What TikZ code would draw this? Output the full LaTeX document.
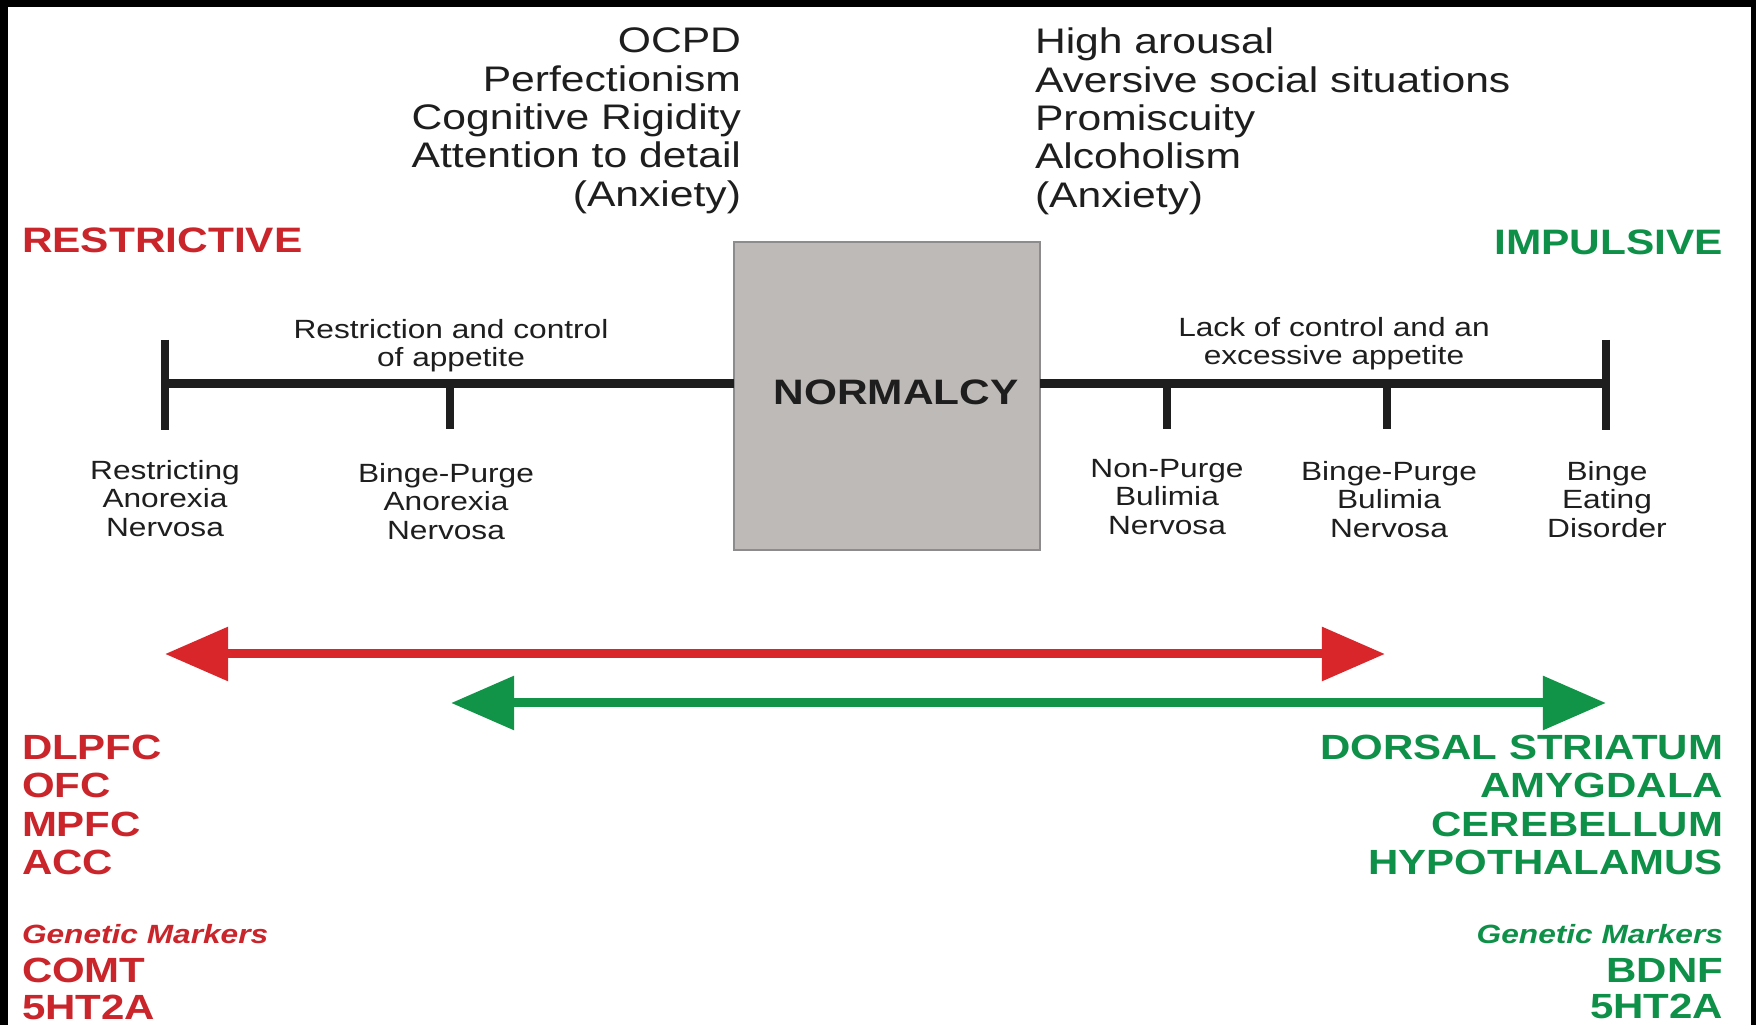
\documentclass[tikz,border=0pt]{standalone}
\usepackage{fontspec}
\setmainfont[FakeStretch=1.2]{Liberation Sans}
\usetikzlibrary{arrows.meta,positioning}
\definecolor{Ink}{HTML}{1E1E1E}
\definecolor{RedText}{HTML}{C9252B}
\definecolor{RedArrow}{HTML}{D9262A}
\definecolor{GreenText}{HTML}{0E9048}
\definecolor{GreenArrow}{HTML}{119447}
\definecolor{BoxGray}{HTML}{BDBAB8}
\definecolor{BoxLine}{HTML}{8C8C8C}

\begin{document}
\begin{tikzpicture}[x=0.01cm,y=-0.01cm,
    every node/.style={inner sep=0pt,outer sep=0pt},
    trait/.style={font=\fontsize{10.1}{10.9}\selectfont,text=Ink},
    pole/.style={font=\bfseries\fontsize{10.05}{11}\selectfont},
    small/.style={font=\fontsize{7.5}{8.1}\selectfont,text=Ink,align=center},
    region/.style={font=\bfseries\fontsize{9.95}{10.9}\selectfont},
    gene/.style={font=\bfseries\fontsize{9.95}{10.5}\selectfont},
    markers/.style={font=\bfseries\itshape\fontsize{7.5}{8.1}\selectfont},
    axis/.style={draw=Ink,line width=0.09cm},
    tick/.style={draw=Ink,line width=0.085cm},
    spread/.style={line width=0.09cm,
      {Triangle[length=0.63cm,width=0.52cm]}-{Triangle[length=0.63cm,width=0.52cm]}}]
  % frame
  \useasboundingbox (0,0) rectangle (1756,1025);
  \fill[black] (0,0) rectangle (1756,1025);
  \fill[white] (8,7) rectangle (1751,1025);

  % traits above
  \node[trait,anchor=north east,align=right] (compulsive) at (741,28)
    {OCPD\\Perfectionism\\Cognitive Rigidity\\Attention to detail\\(Anxiety)};
  \node[trait,anchor=north west,align=left] (arousal) at (1035,28)
    {High arousal\\Aversive social situations\\Promiscuity\\Alcoholism\\(Anxiety)};

  \node[pole,text=RedText,anchor=base west] (restrictive) at (22,253) {RESTRICTIVE};
  \node[pole,text=GreenText,anchor=base east] (impulsive) at (1723,255) {IMPULSIVE};

  % centre box and axis
  \node[pole,text=Ink,draw=BoxLine,fill=BoxGray,line width=0.02cm,
    minimum width=3.06cm,minimum height=3.08cm] (normalcy) at (887,396)
    {\hspace*{0.18cm}\raisebox{0.07cm}{NORMALCY}};

  \coordinate (lend) at (165,384);
  \coordinate (rend) at (1606,384);
  \draw[axis] (lend) -- (lend -| normalcy.west);
  \draw[axis] (rend -| normalcy.east) -- (rend);

  \draw[tick] (165,340) -- (165,430);
  \draw[tick] (1606,340) -- (1606,430);
  \foreach \x in {450,1167,1387}
    \draw[tick] (\x,384) -- (\x,429);

  \node[small,anchor=north] (restriction) at (451,319) {Restriction and control\\of appetite};
  \node[small,anchor=north] (lack) at (1334,317) {Lack of control and an\\excessive appetite};

  % disorders
  \node[small,anchor=north] (ran) at (165,460) {Restricting\\Anorexia\\Nervosa};
  \node[small,anchor=north] (bpan) at (446,463) {Binge-Purge\\Anorexia\\Nervosa};
  \node[small,anchor=north] (npbn) at (1167,459) {Non-Purge\\Bulimia\\Nervosa};
  \node[small,anchor=north] (bpbn) at (1389,461) {Binge-Purge\\Bulimia\\Nervosa};
  \node[small,anchor=north] (bed) at (1607,461) {Binge\\Eating\\Disorder};

  % spectrum arrows
  \coordinate (redl) at (165,654);
  \coordinate (redr) at (1385,654);
  \coordinate (greenl) at (451,703);
  \coordinate (greenr) at (1606,703);
  \draw[spread,RedArrow] (redl) -- (redr);
  \draw[spread,GreenArrow] (greenl) -- (greenr);

  % brain regions
  \node[region,text=RedText,anchor=north west,align=left] (prefrontal) at (22,735)
    {DLPFC\\OFC\\MPFC\\ACC};
  \node[region,text=GreenText,anchor=north east,align=right] (subcortical) at (1723,735)
    {DORSAL STRIATUM\\AMYGDALA\\CEREBELLUM\\HYPOTHALAMUS};

  % genetic markers
  \node[markers,text=RedText,anchor=base west] (genesl) at (22,944) {Genetic Markers};
  \node[gene,text=RedText,anchor=north west,align=left] (comt) at (22,958) {COMT\\5HT2A};
  \node[markers,text=GreenText,anchor=base east] (genesr) at (1723,944) {Genetic Markers};
  \node[gene,text=GreenText,anchor=north east,align=right] (bdnf) at (1723,958) {BDNF\\5HT2A};
\end{tikzpicture}
\end{document}
